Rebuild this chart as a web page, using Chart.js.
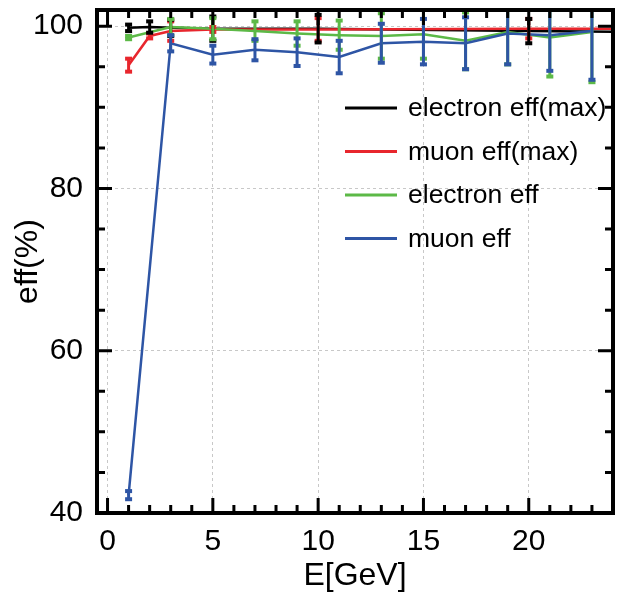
<!DOCTYPE html>
<html lang="en">
<head>
    <meta charset="UTF-8">
    <title>eff vs E</title>
    <style>
        body {
            margin: 0;
            background: #fff;
        }
    </style>
    <script src="https://cdn.jsdelivr.net/npm/chart.js@4"></script>
</head>
<body>
    <canvas id="grafico" width="617" height="592"></canvas>
    <script>
        // energia (GeV) dos pontos
        const energiaMax = [1, 2, 3, 5, 10, 20, 25];
        const energia = [1, 3, 5, 7, 9, 11, 13, 15, 17, 19, 21, 23];

        // eficiencias (%) e erros
        const eleEffMax = [99.8, 99.9, 99.8, 99.7, 99.7, 99.4, 99.3];
        const eleEffMaxErr = [0.4, 0.7, 1.0, 1.5, 1.7, 1.5, 0];
        const muEffMax = [95.2, 98.8, 99.4, 99.6, 99.6, 99.7, 99.7];
        const muEffMaxErr = [0.8, 0.3, 1.2, 0.3, 1.4, 1.2, 0];
        const eleEff = [98.6, 99.9, 99.7, 99.4, 99.1, 98.9, 98.8, 99.0, 98.2, 99.3, 98.6, 99.3];
        const eleEffErr = [0.2, 1.0, 1.3, 1.2, 1.5, 1.8, 2.8, 3.0, 3.5, 4.0, 4.8, 6.2];
        const muEff = [42.2, 97.9, 96.5, 97.1, 96.8, 96.2, 97.9, 98.1, 97.9, 99.1, 98.9, 99.4];
        const muEffErr = [0.5, 1.0, 1.1, 1.3, 1.7, 2.0, 2.4, 2.8, 3.2, 3.8, 4.4, 6.0];

        const xTicks = [0, 5, 10, 15, 20];
        const yTicks = [40, 60, 80, 100];

        const fonte = "'Liberation Sans', Arial, sans-serif";

        function pontos(xs, ys) {
            return xs.map((x, i) => ({x: x, y: ys[i]}));
        }

        function serie(label, cor, xs, ys, erros, ordem) {
            return {
                label: label,
                data: pontos(xs, ys),
                erros: erros,
                borderColor: cor,
                backgroundColor: cor,
                borderWidth: 2.5,
                pointRadius: 0,
                fill: false,
                tension: 0,
                order: ordem
            };
        }

        // barras de erro desenhadas com as escalas do proprio chart
        // ordem: vermelho, preto, verde, azul (azul por cima)
        const ordemErros = [1, 0, 2, 3];
        const barrasErro = {
            id: 'barrasErro',
            afterDatasetsDraw(chart) {
                const ctx = chart.ctx;
                const a = chart.chartArea;
                const sx = chart.scales.x, sy = chart.scales.y;
                ctx.save();
                ctx.beginPath();
                ctx.rect(a.left, a.top, a.right - a.left, a.bottom - a.top);
                ctx.clip();
                ordemErros.forEach(i => {
                    const d = chart.data.datasets[i];
                    ctx.strokeStyle = d.borderColor;
                    ctx.fillStyle = d.borderColor;
                    ctx.lineWidth = 3;
                    d.data.forEach((p, k) => {
                        const e = d.erros[k];
                        if (!e) return;
                        const px = sx.getPixelForValue(p.x);
                        const t = sy.getPixelForValue(p.y + e);
                        const b = sy.getPixelForValue(p.y - e);
                        ctx.beginPath();
                        ctx.moveTo(px, t);
                        ctx.lineTo(px, b);
                        ctx.stroke();
                        ctx.fillRect(px - 3.5, t - 2, 7, 4);
                        ctx.fillRect(px - 3.5, b - 2, 7, 4);
                    });
                });
                ctx.restore();
            }
        };

        // moldura, ticks para dentro e legenda
        const moldura = {
            id: 'moldura',
            afterDraw(chart) {
                const ctx = chart.ctx;
                const a = chart.chartArea;
                const sx = chart.scales.x, sy = chart.scales.y;
                ctx.save();
                ctx.strokeStyle = '#000';
                ctx.lineWidth = 3;
                for (let v = Math.ceil(sx.min); v <= sx.max; v++) {
                    const px = sx.getPixelForValue(v);
                    const len = v % 5 === 0 ? 15 : 8;
                    ctx.beginPath();
                    ctx.moveTo(px, a.bottom); ctx.lineTo(px, a.bottom - len);
                    ctx.moveTo(px, a.top); ctx.lineTo(px, a.top + len);
                    ctx.stroke();
                }
                for (let v = 40; v <= sy.max; v += 5) {
                    const py = sy.getPixelForValue(v);
                    const len = v % 20 === 0 ? 15 : 8;
                    ctx.beginPath();
                    ctx.moveTo(a.left, py); ctx.lineTo(a.left + len, py);
                    ctx.moveTo(a.right, py); ctx.lineTo(a.right - len, py);
                    ctx.stroke();
                }
                ctx.lineWidth = 4;
                ctx.strokeRect(a.left, a.top, a.right - a.left, a.bottom - a.top);

                // legenda
                ctx.font = '26.5px ' + fonte;
                ctx.textBaseline = 'middle';
                ctx.textAlign = 'left';
                const itens = [0, 1, 2, 3];
                itens.forEach((i, k) => {
                    const d = chart.data.datasets[i];
                    const y = 108 + k * 43.5;
                    ctx.strokeStyle = d.borderColor;
                    ctx.lineWidth = 3;
                    ctx.beginPath();
                    ctx.moveTo(345, y); ctx.lineTo(397, y);
                    ctx.stroke();
                    ctx.fillStyle = '#000';
                    ctx.fillText(d.label, 408, y + 1);
                });
                ctx.restore();
            }
        };

        new Chart('grafico', {
            type: 'line',
            data: {
                datasets: [
                    serie('electron eff(max)', '#000000', energiaMax, eleEffMax, eleEffMaxErr, 3),
                    serie('muon eff(max)', '#e8262d', energiaMax, muEffMax, muEffMaxErr, 2),
                    serie('electron eff', '#5cb947', energia, eleEff, eleEffErr, 1),
                    serie('muon eff', '#2e55a5', energia, muEff, muEffErr, 0)
                ]
            },
            plugins: [barrasErro, moldura],
            options: {
                responsive: false,
                animation: false,
                devicePixelRatio: 1,
                layout: {padding: {top: 10, right: 4, left: 0, bottom: 0}},
                plugins: {
                    legend: {display: false},
                    tooltip: {enabled: false}
                },
                scales: {
                    x: {
                        type: 'linear',
                        min: -0.5,
                        max: 24,
                        afterBuildTicks: (s) => { s.ticks = xTicks.map(v => ({value: v})); },
                        afterFit: (s) => { s.height = 79; s.paddingLeft = 0; s.paddingRight = 0; },
                        grid: {color: '#c8c8c8', lineWidth: 1, drawTicks: false},
                        border: {display: false, dash: [3, 3]},
                        ticks: {color: '#000', padding: 11, font: {size: 30, family: fonte}},
                        title: {display: true, text: 'E[GeV]', color: '#000', padding: {top: 0, bottom: 0}, font: {size: 32, lineHeight: 1, family: fonte}}
                    },
                    y: {
                        type: 'linear',
                        min: 40,
                        max: 102,
                        afterBuildTicks: (s) => { s.ticks = yTicks.map(v => ({value: v})); },
                        afterFit: (s) => { s.width = 97; s.paddingTop = 0; s.paddingBottom = 0; },
                        grid: {color: '#c8c8c8', lineWidth: 1, drawTicks: false},
                        border: {display: false, dash: [3, 3]},
                        ticks: {color: '#000', padding: 14, font: {size: 30, family: fonte}},
                        title: {display: true, text: 'eff(%)', color: '#000', padding: {top: 12, bottom: 0}, font: {size: 32, lineHeight: 1, family: fonte}}
                    }
                }
            }
        });
    </script>
</body>
</html>
